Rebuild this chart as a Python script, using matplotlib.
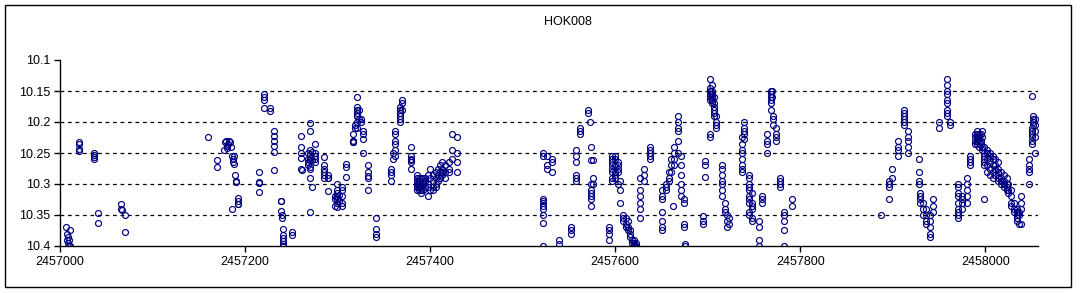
import numpy as np
import matplotlib
matplotlib.use("Agg")
import matplotlib.pyplot as plt
from matplotlib.patches import Rectangle
from matplotlib.ticker import FuncFormatter

plt.rcParams['font.family'] = ['Liberation Sans', 'DejaVu Sans']

jd0 = 2457000
title = "HOK008"
x_ticks = [2457000, 2457200, 2457400, 2457600, 2457800, 2458000]
y_ticks = [10.1, 10.15, 10.2, 10.25, 10.3, 10.35, 10.4]

day1 = [7, 8, 8, 9, 9, 10, 10, 11, 11, 20, 20, 20, 20, 37, 37, 37, 37, 41, 41,
        66, 66, 67, 70, 70]
mag1 = [10.37, 10.38, 10.39, 10.385, 10.395, 10.39, 10.40, 10.375, 10.4,
        10.233, 10.236, 10.243, 10.247, 10.250, 10.253, 10.256, 10.259,
        10.347, 10.363, 10.333, 10.340, 10.342, 10.350, 10.378]

day2 = [160, 170, 170, 177, 178, 179, 180, 181, 182, 183, 184, 185, 186, 187, 187,
        188, 188, 189, 190, 190, 192, 192, 192, 192, 186,
        215, 215, 215, 215, 221, 221, 221, 221, 227, 227,
        231, 231, 231, 231, 231, 231,
        239, 239, 239, 240, 240, 241, 241, 241, 241, 241, 241, 251, 251,
        260, 260, 260, 260, 260, 262,
        268, 268, 268, 268, 270, 270, 270, 270, 270, 270, 270, 270, 270, 270,
        272, 272, 272, 276, 276, 276, 276, 276,
        285, 285, 285, 285, 285, 285, 290, 290, 290, 290,
        297, 297, 297, 299, 299, 299, 299, 299, 299, 299, 302, 302,
        305, 305, 305, 305, 305, 309, 309, 309,
        317, 317, 317, 317, 317, 319, 319, 321, 321, 321, 321, 321, 321, 321, 321,
        323, 323, 325, 325, 328, 328, 328, 328,
        333, 333, 333, 333, 333, 342, 342, 342, 342,
        358, 358, 358, 358, 360, 360, 362, 362, 362, 362, 362, 362,
        367, 367, 367, 367, 367, 367, 370, 370, 370,
        379, 379, 379, 379, 379, 379,
        386, 386, 386, 386, 386, 386, 388, 388, 388, 388, 388,
        390, 390, 390, 390, 390, 392, 392, 392, 392, 394, 394, 394,
        398, 398, 398, 398, 400, 400, 400,
        403, 403, 403, 403, 406, 406, 406, 406, 409, 409, 409, 411, 411, 411,
        413, 413, 413, 413, 416, 416, 416,
        420, 420, 420, 424, 424, 424, 429, 429, 429, 429]
mag2 = [10.225, 10.262, 10.273, 10.245, 10.232, 10.23, 10.238, 10.242, 10.235,
        10.23, 10.232, 10.24, 10.255, 10.26, 10.265, 10.268, 10.255, 10.285,
        10.295, 10.297, 10.323, 10.328, 10.332, 10.333, 10.34,
        10.28, 10.296, 10.298, 10.313, 10.155, 10.16, 10.165, 10.178, 10.178, 10.183,
        10.215, 10.222, 10.23, 10.238, 10.249, 10.277,
        10.327, 10.327, 10.343, 10.35, 10.355, 10.373, 10.383, 10.387, 10.392,
        10.397, 10.4, 10.378, 10.382,
        10.222, 10.24, 10.25, 10.258, 10.275, 10.278,
        10.25, 10.26, 10.265, 10.27, 10.202, 10.214, 10.245, 10.252, 10.258,
        10.262, 10.272, 10.275, 10.29, 10.345,
        10.305, 10.248, 10.262, 10.235, 10.25, 10.255, 10.26, 10.265,
        10.256, 10.27, 10.275, 10.28, 10.285, 10.29, 10.285, 10.29, 10.29, 10.312,
        10.32, 10.325, 10.335, 10.3, 10.31, 10.315, 10.32, 10.325, 10.33, 10.337,
        10.318, 10.327,
        10.305, 10.31, 10.32, 10.33, 10.335, 10.268, 10.272, 10.288,
        10.22, 10.23, 10.232, 10.233, 10.231, 10.21, 10.205, 10.16, 10.175, 10.18,
        10.19, 10.2, 10.21, 10.19, 10.185,
        10.18, 10.195, 10.195, 10.2, 10.215, 10.22, 10.228, 10.25,
        10.27, 10.28, 10.29, 10.31, 10.287, 10.355, 10.373, 10.38, 10.385,
        10.275, 10.28, 10.285, 10.295, 10.26, 10.25, 10.215, 10.22, 10.23, 10.235,
        10.245, 10.255,
        10.175, 10.18, 10.185, 10.19, 10.195, 10.2, 10.165, 10.17, 10.18,
        10.24, 10.255, 10.26, 10.262, 10.265, 10.275,
        10.285, 10.29, 10.295, 10.3, 10.305, 10.31, 10.29, 10.295, 10.3, 10.305, 10.31,
        10.29, 10.3, 10.305, 10.31, 10.315, 10.29, 10.295, 10.3, 10.31, 10.29, 10.295,
        10.305,
        10.285, 10.3, 10.305, 10.32, 10.275, 10.29, 10.31,
        10.285, 10.295, 10.305, 10.31, 10.28, 10.29, 10.3, 10.305, 10.275, 10.285,
        10.295, 10.27, 10.28, 10.29,
        10.265, 10.275, 10.28, 10.285, 10.27, 10.28, 10.29,
        10.265, 10.275, 10.28, 10.22, 10.245, 10.26, 10.225, 10.25, 10.265, 10.28]

day3 = [522, 522, 522, 522, 522, 522, 522, 522, 522, 522,
        526, 526, 526, 532, 532, 532, 539, 539, 552, 552, 552,
        558, 558, 558, 558, 558, 558, 562, 562, 562, 571, 571, 573,
        574, 574, 574, 574, 574, 574, 574, 574, 576, 576, 576,
        593, 593, 593, 593,
        597, 597, 597, 597, 597, 597, 597, 597, 600, 600, 600, 600, 600, 600,
        603, 603, 603, 603, 603, 605, 605, 605,
        609, 609, 609, 612, 612, 612, 614, 614, 614, 616, 616, 616, 618, 618,
        620, 620, 620, 622, 622,
        627, 627, 627, 627, 627, 627, 631, 631, 631, 638, 638, 638, 638, 638,
        651, 651, 651, 651, 651, 651, 651,
        655, 655, 655, 658, 658, 658, 660, 660, 660, 662,
        664, 664, 664, 664, 668, 668, 668, 668, 668, 668,
        671, 671, 671, 671, 671, 671, 674, 674, 674, 674, 676, 676,
        695, 695, 695, 697, 697, 697,
        703, 703, 703, 703, 703, 703, 703, 703, 705, 705, 705, 705, 705, 705,
        707, 707, 707, 707, 707, 707, 709, 709, 709, 709,
        716, 716, 716, 716, 716, 716, 716, 719, 719, 719, 721, 721, 721, 723, 723,
        737, 737, 737, 737, 737, 737, 737, 737, 739, 739, 739, 739, 739,
        745, 745, 745, 745, 745, 745, 745, 745, 745, 745,
        748, 748, 748, 748, 748, 748, 756, 756, 756, 756, 759, 759, 759,
        764, 764, 764, 764, 768, 768, 768, 768, 768, 768, 769, 769,
        771, 771, 771, 774, 774, 774, 774, 778, 778, 778, 778,
        782, 782, 782, 782, 782, 791, 791]
mag3 = [10.25, 10.255, 10.325, 10.33, 10.335, 10.34, 10.35, 10.363, 10.4, 10.328,
        10.255, 10.27, 10.275, 10.26, 10.265, 10.28, 10.39, 10.397, 10.37, 10.375, 10.38,
        10.285, 10.29, 10.295, 10.245, 10.255, 10.265, 10.21, 10.215, 10.22,
        10.18, 10.185, 10.2,
        10.24, 10.262, 10.3, 10.31, 10.315, 10.32, 10.325, 10.335, 10.262, 10.29, 10.3,
        10.37, 10.375, 10.38, 10.39,
        10.255, 10.26, 10.265, 10.27, 10.275, 10.28, 10.29, 10.295,
        10.255, 10.26, 10.27, 10.28, 10.285, 10.29,
        10.265, 10.27, 10.275, 10.28, 10.3, 10.31, 10.33, 10.295,
        10.35, 10.355, 10.36, 10.355, 10.365, 10.37, 10.36, 10.37, 10.375,
        10.375, 10.38, 10.385, 10.39, 10.395, 10.39, 10.395, 10.4, 10.395, 10.4,
        10.32, 10.33, 10.34, 10.355, 10.29, 10.31, 10.275, 10.285, 10.295,
        10.24, 10.245, 10.25, 10.26, 10.255,
        10.31, 10.32, 10.325, 10.345, 10.36, 10.37, 10.375,
        10.3, 10.305, 10.31, 10.28, 10.29, 10.295, 10.26, 10.27, 10.28, 10.335,
        10.24, 10.25, 10.26, 10.27, 10.19, 10.2, 10.21, 10.215, 10.23, 10.25,
        10.255, 10.27, 10.285, 10.3, 10.31, 10.32, 10.325, 10.33, 10.365, 10.37,
        10.4, 10.397,
        10.352, 10.36, 10.365, 10.263, 10.27, 10.288,
        10.13, 10.145, 10.15, 10.16, 10.165, 10.155, 10.22, 10.225,
        10.14, 10.15, 10.155, 10.16, 10.165, 10.17,
        10.16, 10.17, 10.175, 10.18, 10.185, 10.19, 10.19, 10.2, 10.205, 10.21,
        10.27, 10.275, 10.285, 10.295, 10.3, 10.31, 10.32, 10.33, 10.34, 10.345,
        10.35, 10.36, 10.37, 10.355, 10.365,
        10.225, 10.235, 10.245, 10.25, 10.26, 10.27, 10.275, 10.28,
        10.2, 10.21, 10.215, 10.22, 10.228,
        10.285, 10.29, 10.3, 10.305, 10.31, 10.32, 10.325, 10.33, 10.345, 10.35,
        10.315, 10.33, 10.335, 10.34, 10.355, 10.36, 10.36, 10.37, 10.39, 10.4,
        10.32, 10.325, 10.33,
        10.22, 10.23, 10.235, 10.25, 10.15, 10.155, 10.16, 10.165, 10.17, 10.18,
        10.15, 10.16,
        10.19, 10.195, 10.205, 10.21, 10.22, 10.225, 10.23, 10.29, 10.295, 10.3, 10.305,
        10.345, 10.35, 10.36, 10.375, 10.4, 10.325, 10.335]

day4 = [887, 896, 896, 896, 896, 899, 899, 906, 906, 906, 906,
        912, 912, 912, 912, 912, 912, 917, 917, 917, 917, 917,
        928, 928, 928, 928, 930, 930, 930, 930, 933, 933, 933, 936, 936, 936, 936,
        940, 940, 940, 940, 940, 943, 943, 943, 950, 950,
        959, 959, 959, 959, 959, 959, 959, 959, 959, 962, 962,
        971, 971, 971, 971, 971, 971, 971, 971, 971, 975, 975, 975, 975,
        980, 980, 980, 980, 980, 984, 984, 984, 984,
        989, 989, 989, 989, 991, 991, 991, 991, 991, 993, 993, 993, 993,
        995, 995, 995, 997, 997, 997, 997,
        999, 999, 999, 999, 999, 999, 999, 1002, 1002, 1002, 1002, 1002,
        1005, 1005, 1005, 1005, 1005, 1008, 1008, 1008, 1008, 1008,
        1011, 1011, 1011, 1011, 1014, 1014, 1014, 1014, 1014,
        1017, 1017, 1017, 1017, 1020, 1020, 1020, 1020, 1023, 1023, 1023, 1023,
        1025, 1025, 1025, 1028, 1028, 1028, 1028, 1031, 1031, 1031,
        1034, 1034, 1034, 1034, 1034, 1036, 1036, 1036, 1039, 1039, 1039, 1039,
        1047, 1047, 1047, 1047, 1047, 1050, 1050, 1050, 1050, 1050, 1050, 1050,
        1052, 1052, 1052, 1052, 1054, 1054, 1054, 1054, 1054]
mag4 = [10.35, 10.325, 10.3, 10.295, 10.305, 10.275, 10.29, 10.23, 10.24, 10.245, 10.255,
        10.18, 10.185, 10.19, 10.195, 10.2, 10.205, 10.215, 10.225, 10.23, 10.24, 10.25,
        10.26, 10.28, 10.295, 10.3, 10.315, 10.32, 10.325, 10.33, 10.33, 10.34, 10.35,
        10.34, 10.35, 10.36, 10.365,
        10.35, 10.36, 10.37, 10.38, 10.385, 10.325, 10.335, 10.345, 10.2, 10.21,
        10.13, 10.14, 10.15, 10.155, 10.165, 10.17, 10.18, 10.185, 10.19, 10.2, 10.205,
        10.3, 10.305, 10.315, 10.32, 10.33, 10.34, 10.345, 10.35, 10.355,
        10.32, 10.33, 10.34, 10.325,
        10.29, 10.3, 10.31, 10.32, 10.33, 10.255, 10.26, 10.265, 10.27,
        10.22, 10.225, 10.23, 10.235, 10.215, 10.22, 10.225, 10.23, 10.235,
        10.22, 10.225, 10.23, 10.24, 10.22, 10.23, 10.235, 10.215, 10.225, 10.24, 10.245,
        10.24, 10.25, 10.255, 10.265, 10.27, 10.325, 10.26,
        10.245, 10.25, 10.26, 10.27, 10.28,
        10.25, 10.255, 10.265, 10.275, 10.285, 10.255, 10.26, 10.27, 10.28, 10.29,
        10.26, 10.27, 10.275, 10.285, 10.265, 10.275, 10.28, 10.29, 10.295,
        10.28, 10.29, 10.295, 10.3, 10.285, 10.295, 10.3, 10.305, 10.29, 10.3, 10.305, 10.31,
        10.3, 10.31, 10.315, 10.31, 10.32, 10.33, 10.335, 10.33, 10.34, 10.345,
        10.34, 10.345, 10.35, 10.355, 10.36, 10.345, 10.35, 10.365,
        10.32, 10.33, 10.34, 10.365,
        10.26, 10.27, 10.275, 10.28, 10.3,
        10.21, 10.215, 10.22, 10.225, 10.23, 10.235, 10.158,
        10.19, 10.195, 10.2, 10.205, 10.195, 10.205, 10.215, 10.225, 10.25]

seasons = [(day1, mag1), (day2, mag2), (day3, mag3), (day4, mag4)]

fig = plt.figure(figsize=(10.81, 2.93), dpi=100)
ax = fig.add_axes([60 / 1081, 47 / 293, 978 / 1081, 186 / 293])

for d, m in seasons:
    ax.plot(jd0 + np.array(d), m, 'o', ls='none', ms=4.3, mfc='none',
            mec='#000080', mew=0.85)

ax.set_xlim(2457000, 2458057)
ax.set_ylim(10.4, 10.1)
ax.set_xticks(x_ticks)
ax.set_yticks(y_ticks)
ax.xaxis.set_major_formatter(FuncFormatter(lambda v, p: f"{v:.0f}"))
ax.yaxis.set_major_formatter(FuncFormatter(lambda v, p: f"{v:g}"))
ax.tick_params(axis='both', labelsize=9, length=4, width=1, direction='out',
               colors='black', pad=3)
for s in ['top', 'right']:
    ax.spines[s].set_visible(False)
for s in ['left', 'bottom']:
    ax.spines[s].set_linewidth(1)
for yv in y_ticks[1:-1]:
    ax.axhline(yv, color='black', lw=0.9, ls=(0, (3, 3)), zorder=0)

fig.text(568 / 1081, 1 - 22 / 293, title, ha='center', va='center', fontsize=9)
fig.patches.append(Rectangle((5 / 1081, 6 / 293), 1066 / 1081, 282 / 293,
                             transform=fig.transFigure, fill=False,
                             edgecolor='black', lw=1))

fig.savefig('out.png', dpi=100)
